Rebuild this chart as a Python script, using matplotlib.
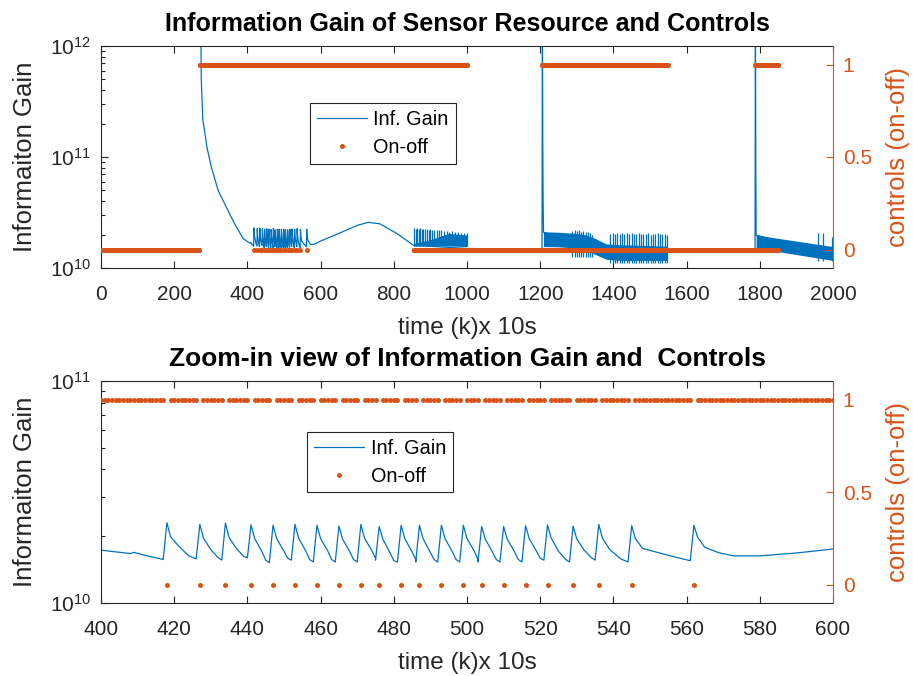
import numpy as np
import matplotlib
matplotlib.use("Agg")
import matplotlib.pyplot as plt
from matplotlib.lines import Line2D
from matplotlib.ticker import NullFormatter

plt.rcParams['font.family'] = ['Liberation Sans', 'DejaVu Sans']
plt.rcParams['mathtext.fontset'] = 'custom'
plt.rcParams['mathtext.rm'] = 'Liberation Sans'
plt.rcParams['mathtext.it'] = 'Liberation Sans:italic'
plt.rcParams['mathtext.bf'] = 'Liberation Sans:bold'

BLUE = '#0072BD'
ORANGE = '#D95319'
DARK = '#262626'

# ---- information gain (values in units of 1e10) ----
# decay after the sensor is switched on at k~272
head_k = [272, 274, 278, 290, 302, 320, 343, 365, 388, 400, 404, 408, 409, 412, 417]
head_v = [300.0, 50.0, 22.0, 12.0, 8.0, 5.0, 3.5, 2.5, 1.85, 1.73, 1.70, 1.67, 1.69, 1.64, 1.57]

# sawtooth between 418 and 562: spikes at the off-controls
off_times = [418, 427, 434, 441, 447, 453, 459, 465, 471, 476, 482,
             487, 493, 499, 504, 510, 516, 522, 529, 536, 545, 562]
saw_peak = [2.30, 2.26, 2.29, 2.25, 2.24, 2.26, 2.24, 2.22, 2.26, 2.21, 2.24,
            2.24, 2.24, 2.24, 2.21, 2.21, 2.23, 2.25, 2.22, 2.26, 2.23, 2.24]
saw_knee1 = [1.99, 1.96, 1.97, 1.95, 1.95, 1.96, 1.95, 1.94, 1.96, 1.94, 1.95,
             1.95, 1.95, 1.95, 1.94, 1.94, 1.95, 1.96, 1.94, 1.96, 1.95, 1.98]
saw_knee2 = [1.82, 1.74, 1.76, 1.70, 1.71, 1.71, 1.71, 1.70, 1.72, 1.68, 1.70,
             1.69, 1.70, 1.71, 1.69, 1.70, 1.71, 1.71, 1.73, 1.74, 1.76, 1.78]
saw_knee3 = [1.63, 1.60, 1.62, 1.56, 1.59, 1.57, 1.57, 1.57, 1.59, 1.55, 1.57,
             1.57, 1.57, 1.57, 1.57, 1.57, 1.59, 1.57, 1.60, 1.58, 1.64, 1.68]
saw_trough = [1.58, 1.56, 1.60, 1.52, 1.56, 1.53, 1.53, 1.53, 1.56, 1.53, 1.53,
              1.53, 1.53, 1.53, 1.53, 1.53, 1.56, 1.53, 1.56, 1.53, 1.55]

# after the sawtooth: slow hump, then dense bands and two more spikes
tail_k = [573, 580, 590, 600, 626, 650, 671, 700, 730, 762, 808, 844, 854,
          1000, 1205, 1206, 1207, 1208, 1209, 1380, 1548, 1555, 1787,
          1788, 1789, 1790, 2000]
tail_v = [1.63, 1.63, 1.68, 1.75, 1.90, 2.05, 2.20, 2.42, 2.58, 2.50, 2.05, 1.69, 1.60,
          1.50, 1.47, 300.0, 15.0, 4.0, 2.10, 1.45, 1.40, 1.46, 1.46,
          300.0, 10.0, 1.98, 1.30]

# dense oscillation bands (envelopes)
band1_k, band1_lo, band1_hi = [854, 900, 950, 1000], [1.58, 1.58, 1.58, 1.56], [1.66, 1.80, 2.05, 1.98]
band2_k = [1209, 1250, 1290, 1320, 1345, 1380, 1420, 1480, 1548]
band2_lo = [1.56, 1.55, 1.52, 1.45, 1.35, 1.20, 1.17, 1.17, 1.17]
band2_hi = [2.12, 2.10, 2.06, 2.00, 1.88, 1.65, 1.62, 1.60, 1.57]
band3_k, band3_lo, band3_hi = [1790, 2000], [1.51, 1.17], [1.98, 1.56]

# single spikes sticking out of the bands
comb1_k = [856, 860, 864, 868, 872, 877, 881, 886, 890, 895, 900, 905, 911,
           917, 923, 930, 937, 944, 952, 960, 968, 976, 984, 992, 999]
comb1_top = [2.28, 2.25, 2.27, 2.24, 2.27, 2.25, 2.26, 2.23, 2.25, 2.22, 2.24, 2.20, 2.22,
             2.20, 2.18, 2.20, 2.16, 2.17, 2.13, 2.14, 2.10, 2.11, 2.07, 2.08, 2.05]
comb1_bot = 1.58
comb2_k = [1288, 1294, 1300, 1306, 1312, 1318, 1324, 1330, 1336, 1342]
comb2_top = [2.15, 2.19, 2.16, 2.19, 2.13, 2.17, 2.10, 2.12, 2.05, 2.00]
comb2_bot = 1.26
comb3_k = [1391, 1398, 1404, 1411, 1417, 1424, 1430, 1437, 1443, 1450, 1456, 1463, 1469,
           1476, 1482, 1489, 1495, 1502, 1508, 1515, 1521, 1528, 1534, 1541, 1547]
comb3_top = [2.03, 2.06, 2.02, 2.05, 2.04, 2.06, 2.01, 2.05, 2.03, 2.06, 2.02, 2.04, 2.05,
             2.01, 2.04, 2.03, 2.05, 2.00, 2.04, 2.02, 2.05, 2.01, 2.03, 2.04, 2.00]
comb3_bot = 1.12
comb4_k, comb4_top, comb4_bot = [1960, 1974, 1998], [2.05, 2.05, 1.90], 1.15

# ---- controls (on-off) ----
ctrl_on_spans = [(270, 1000), (1205, 1548), (1788, 1850)]
ctrl_off_spans = [(0, 268), (854, 1850)]

# assemble the gain line
k_line = list(head_k)
v_line = list(head_v)
for i, t in enumerate(off_times):
    nxt = off_times[i + 1] if i < len(off_times) - 1 else 573
    mid = (t + 3 + nxt) // 2
    k_line += [t, t + 1, t + 3, mid]
    v_line += [saw_peak[i], saw_knee1[i], saw_knee2[i], saw_knee3[i]]
    if i < len(off_times) - 1:
        k_line.append(nxt - 1)
        v_line.append(saw_trough[i])
k_line += tail_k
v_line += tail_v
k_line = np.array(k_line)
v_line = np.array(v_line) * 1e10

on_k = [k for a, b in ctrl_on_spans for k in range(a, b + 1) if k not in off_times]
off_k = [k for a, b in ctrl_off_spans for k in range(a, b + 1)] + off_times

bands = [(band1_k, band1_lo, band1_hi), (band2_k, band2_lo, band2_hi), (band3_k, band3_lo, band3_hi)]
combs = [(comb1_k, comb1_top, comb1_bot), (comb2_k, comb2_top, comb2_bot),
         (comb3_k, comb3_top, comb3_bot), (comb4_k, comb4_top, comb4_bot)]


def draw_panel(ax, xlim, xticks, ylim, title, title_size, leg_anchor):
    ax.plot(k_line, v_line, color=BLUE, lw=0.9)
    for bk, lo, hi in bands:
        ax.fill_between(bk, np.array(lo) * 1e10, np.array(hi) * 1e10, color=BLUE, lw=0)
    for ck, top, bot in combs:
        ax.vlines(ck, bot * 1e10, np.array(top) * 1e10, color=BLUE, lw=0.9)
    ax.set_yscale('log')
    ax.set_ylim(*ylim)
    ax.set_xlim(*xlim)
    ax.set_xticks(xticks)
    ax.yaxis.set_minor_formatter(NullFormatter())
    ax.tick_params(axis='x', direction='in', top=True, length=5, width=0.8,
                   labelsize=15, pad=12.5, color=DARK, labelcolor=DARK)
    ax.tick_params(axis='y', which='both', direction='in', right=False, width=0.8,
                   labelsize=15, pad=7, color=DARK, labelcolor=DARK)
    ax.tick_params(axis='y', which='major', length=5)
    ax.tick_params(axis='y', which='minor', length=3)
    for s in ['left', 'top', 'bottom']:
        ax.spines[s].set_color(DARK)
        ax.spines[s].set_linewidth(0.8)
    ax.spines['right'].set_visible(False)
    ax.set_ylabel('Informaiton Gain', fontsize=18.5, color=DARK)
    ax.yaxis.set_label_coords(-0.088, 0.5)
    ax.set_xlabel('time (k)x 10s', fontsize=17.5, color=DARK)
    ax.xaxis.set_label_coords(0.5, -0.222)
    ax.set_title(title, fontsize=title_size, fontweight='bold', pad=10.5)

    ax2 = ax.twinx()
    ax2.plot(on_k, np.ones(len(on_k)), 'o', ms=3.6, color=ORANGE, mec='none')
    ax2.plot(off_k, np.zeros(len(off_k)), 'o', ms=3.6, color=ORANGE, mec='none')
    ax2.set_xlim(*xlim)
    ax2.set_ylim(-0.1, 1.1)
    ax2.set_yticks([0, 0.5, 1])
    ax2.set_yticklabels(['0', '0.5', '1'])
    ax2.tick_params(axis='y', direction='in', length=5, width=0.8, labelsize=15, pad=7,
                    color=ORANGE, labelcolor=ORANGE)
    for s in ['left', 'top', 'bottom']:
        ax2.spines[s].set_visible(False)
    ax2.spines['right'].set_color(ORANGE)
    ax2.spines['right'].set_linewidth(0.8)
    ax2.set_ylabel('controls (on-off)', fontsize=18.5, color=ORANGE)
    ax2.yaxis.set_label_coords(1.072, 0.5)

    handles = [Line2D([], [], color=BLUE, lw=0.9),
               Line2D([], [], ls='none', marker='o', ms=3.6, color=ORANGE, mec='none')]
    leg = ax2.legend(handles, ['Inf. Gain', 'On-off'], loc='upper left',
                     bbox_to_anchor=leg_anchor, borderaxespad=0, fancybox=False,
                     edgecolor=DARK, framealpha=1, fontsize=14.3, handlelength=2.5,
                     handletextpad=0.34, borderpad=0.35, labelspacing=0.45)
    leg.get_frame().set_linewidth(0.8)


fig = plt.figure(figsize=(9.13, 6.76), dpi=100)
ax_top = fig.add_axes([101 / 913, 1 - 268 / 676, 732 / 913, 222 / 676])
ax_bot = fig.add_axes([101 / 913, 1 - 603 / 676, 732 / 913, 222 / 676])

draw_panel(ax_top, (0, 2000), [0, 200, 400, 600, 800, 1000, 1200, 1400, 1600, 1800, 2000],
           (1e10, 1e12), 'Information Gain of Sensor Resource and Controls', 18, (0.2855, 0.743))
draw_panel(ax_bot, (400, 600), [400, 420, 440, 460, 480, 500, 520, 540, 560, 580, 600],
           (1e10, 1e11), 'Zoom-in view of Information Gain and  Controls', 19, (0.282, 0.772))

fig.savefig('out.png', dpi=100)
